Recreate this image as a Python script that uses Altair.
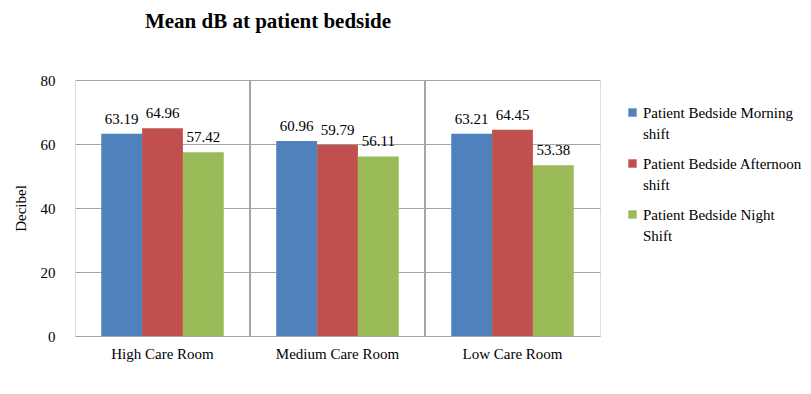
import altair as alt
import pandas as pd

rooms = ["High Care Room", "Medium Care Room", "Low Care Room"]
shifts = ["Patient Bedside Morning shift", "Patient Bedside Afternoon shift", "Patient Bedside Night Shift"]
morning = [63.19, 60.96, 63.21]
afternoon = [64.96, 59.79, 64.45]
night = [57.42, 56.11, 53.38]
colors = ["#4F81BD", "#C0504D", "#9BBB59"]
y_ticks = [0, 20, 40, 60, 80]
title_text = ["Mean dB at patient bedside"]

rows = []
for s, vals in zip(shifts, [morning, afternoon, night]):
    for r, v in zip(rooms, vals):
        rows.append({"room": r, "shift": s, "value": v})
df = pd.DataFrame(rows)

FONT = "Liberation Serif"
W, H = 525, 256

base = alt.Chart(df).encode(
    x=alt.X("room:N", sort=rooms, title=None,
            scale=alt.Scale(paddingInner=0.3, paddingOuter=0.15),
            axis=alt.Axis(labelFont=FONT, labelFontSize=15, labelColor="black",
                          labelPadding=10, ticks=False, domain=False, grid=False, labelAngle=0)),
    xOffset=alt.XOffset("shift:N", sort=shifts, scale=alt.Scale(paddingInner=0)),
    y=alt.Y("value:Q", title="Decibel",
            scale=alt.Scale(domain=[0, 80], nice=False),
            axis=alt.Axis(values=y_ticks, labelFont=FONT, labelFontSize=15, labelColor="black",
                          labelPadding=20, ticks=False, domain=False, grid=True,
                          gridColor="#A6A6A6", titleFont=FONT, titleFontSize=15,
                          titleFontWeight="normal", titleColor="black",
                          titleX=-47, titleY=128)),
)

bars = base.mark_bar().encode(
    color=alt.Color("shift:N", sort=shifts, title=None,
                    scale=alt.Scale(domain=shifts, range=colors),
                    legend=alt.Legend(orient="none", legendX=550, legendY=25,
                                      symbolType="square", symbolSize=70,
                                      symbolStrokeWidth=0,
                                      labelFont=FONT, labelFontSize=15, labelColor="black",
                                      labelLimit=400, rowPadding=14, labelOffset=3,
                                      labelExpr="datum.label == 'Patient Bedside Morning shift' ? ['Patient Bedside Morning', 'shift'] : datum.label == 'Patient Bedside Afternoon shift' ? ['Patient Bedside Afternoon', 'shift'] : ['Patient Bedside Night', 'Shift']"))
)

labels = base.mark_text(baseline="bottom", dy=-7, font=FONT, fontSize=15, color="black").encode(
    text=alt.Text("value:Q", format=".2f")
)

rule1 = alt.Chart(df).mark_rule(color="#A6A6A6").encode(
    x=alt.value(W / 3), y=alt.value(0), y2=alt.value(H))
rule2 = alt.Chart(df).mark_rule(color="#A6A6A6").encode(
    x=alt.value(2 * W / 3), y=alt.value(0), y2=alt.value(H))

title = alt.Chart(pd.DataFrame({"t": title_text})).mark_text(
    font=FONT, fontSize=21, fontWeight="bold", color="black", align="center", baseline="middle"
).encode(text="t:N", x=alt.value(193), y=alt.value(-58))

chart = alt.layer(rule1, rule2, bars, labels, title).properties(
    width=W, height=H,
    autosize=alt.AutoSizeParams(type="none"),
    padding={"left": 67, "top": 72, "right": 203, "bottom": 50},
).configure_view(stroke="#A6A6A6").configure(
    font=FONT, style={"guide-label": {"lineHeight": 21}}
)

chart.save("out.html", embed_options={"renderer": "svg", "actions": False})
